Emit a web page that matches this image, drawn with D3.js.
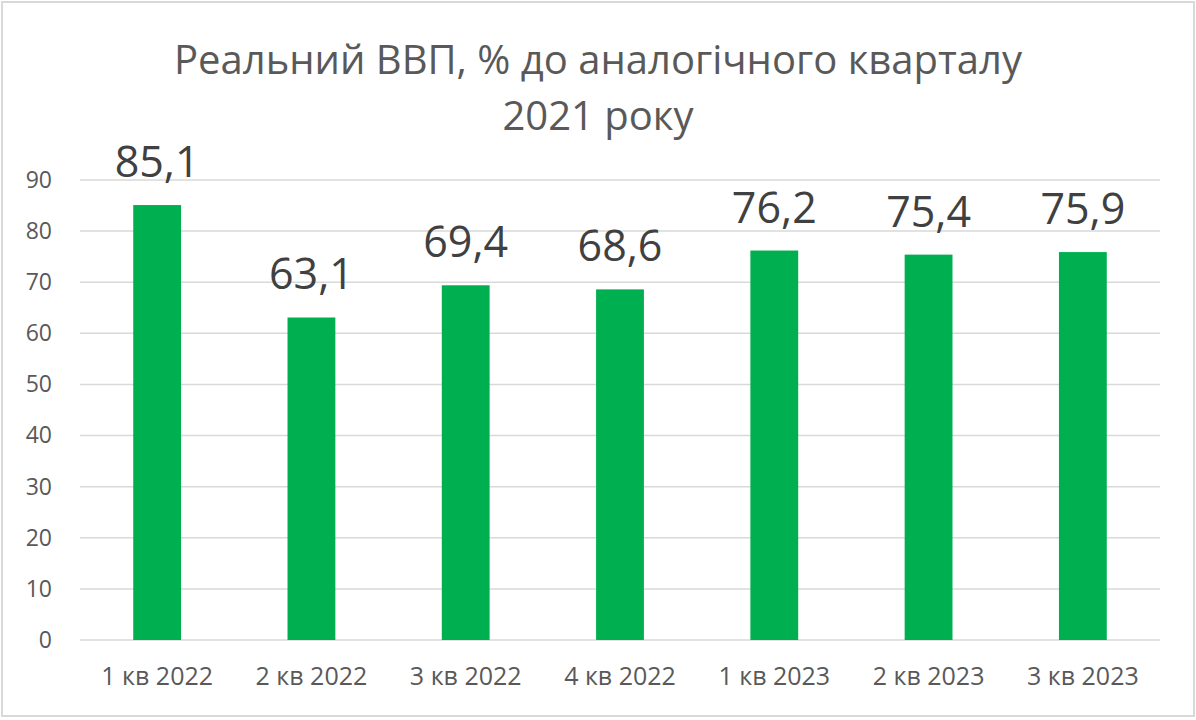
<!DOCTYPE html>
<html>
<head>
<meta charset="utf-8">
<script src="https://cdn.jsdelivr.net/npm/d3@7"></script>
<style>
  body { margin: 0; background: #fff; }
  svg { display: block; font-family: "Open Sans", sans-serif; }
</style>
</head>
<body>
<svg id="chart"></svg>
<script>
const quarters = ["1 кв 2022", "2 кв 2022", "3 кв 2022", "4 кв 2022", "1 кв 2023", "2 кв 2023", "3 кв 2023"];
const gdpValues = [85.1, 63.1, 69.4, 68.6, 76.2, 75.4, 75.9];
const yTicks = [0, 10, 20, 30, 40, 50, 60, 70, 80, 90];
const titleLines = ["Реальний ВВП, % до аналогічного кварталу", "2021 року"];

const W = 1196, H = 720;
const margin = { top: 180, right: 36, bottom: 80, left: 80 };
const width = W - margin.left - margin.right;
const height = H - margin.top - margin.bottom;

const svg = d3.select("#chart").attr("width", W).attr("height", H);

// outer frame
svg.append("rect")
    .attr("x", 2).attr("y", 2)
    .attr("width", W - 4).attr("height", H - 6)
    .attr("fill", "#fff")
    .attr("stroke", "#d9d9d9")
    .attr("stroke-width", 2);

svg.append("text")
    .attr("x", W / 2)
    .attr("text-anchor", "middle")
    .style("fill", "#595959")
    .style("font-size", "40px")
    .selectAll("tspan")
    .data(titleLines)
    .enter()
    .append("tspan")
    .attr("x", W / 2)
    .attr("y", (d, i) => 74 + i * 56)
    .text(d => d);

const g = svg.append("g").attr("transform", `translate(${margin.left},${margin.top})`);

const x = d3.scaleBand().domain(quarters).range([0, width]).paddingInner(0.69).paddingOuter(0.345);
const y = d3.scaleLinear().domain([0, 90]).range([height, 0]);

g.selectAll("line.grid")
    .data(yTicks)
    .enter()
    .append("line")
    .attr("class", "grid")
    .attr("x1", 0).attr("x2", width)
    .attr("y1", d => y(d)).attr("y2", d => y(d))
    .attr("stroke", "#d9d9d9")
    .attr("stroke-width", 1.5);

const yAxis = g.append("g")
    .call(d3.axisLeft(y).tickValues(yTicks).tickSize(0).tickPadding(28));
yAxis.select(".domain").remove();
yAxis.selectAll("text")
    .style("font-family", "Open Sans, sans-serif")
    .style("font-size", "23px")
    .style("fill", "#595959");

const xAxis = g.append("g")
    .attr("transform", `translate(0,${height})`)
    .call(d3.axisBottom(x).tickSize(0).tickPadding(27));
xAxis.select(".domain").remove();
xAxis.selectAll("text")
    .style("font-family", "Open Sans, sans-serif")
    .style("font-size", "25px")
    .style("fill", "#595959");

g.selectAll("rect.bar")
    .data(gdpValues)
    .enter()
    .append("rect")
    .attr("class", "bar")
    .attr("x", (d, i) => x(quarters[i]))
    .attr("y", d => y(d))
    .attr("width", x.bandwidth())
    .attr("height", d => height - y(d))
    .attr("fill", "#00b050");

g.selectAll("text.val")
    .data(gdpValues)
    .enter()
    .append("text")
    .attr("class", "val")
    .attr("x", (d, i) => x(quarters[i]) + x.bandwidth() / 2)
    .attr("y", d => y(d) - 28)
    .attr("text-anchor", "middle")
    .style("font-size", "43px")
    .style("fill", "#404040")
    .text(d => d.toFixed(1).replace(".", ","));
</script>
</body>
</html>
